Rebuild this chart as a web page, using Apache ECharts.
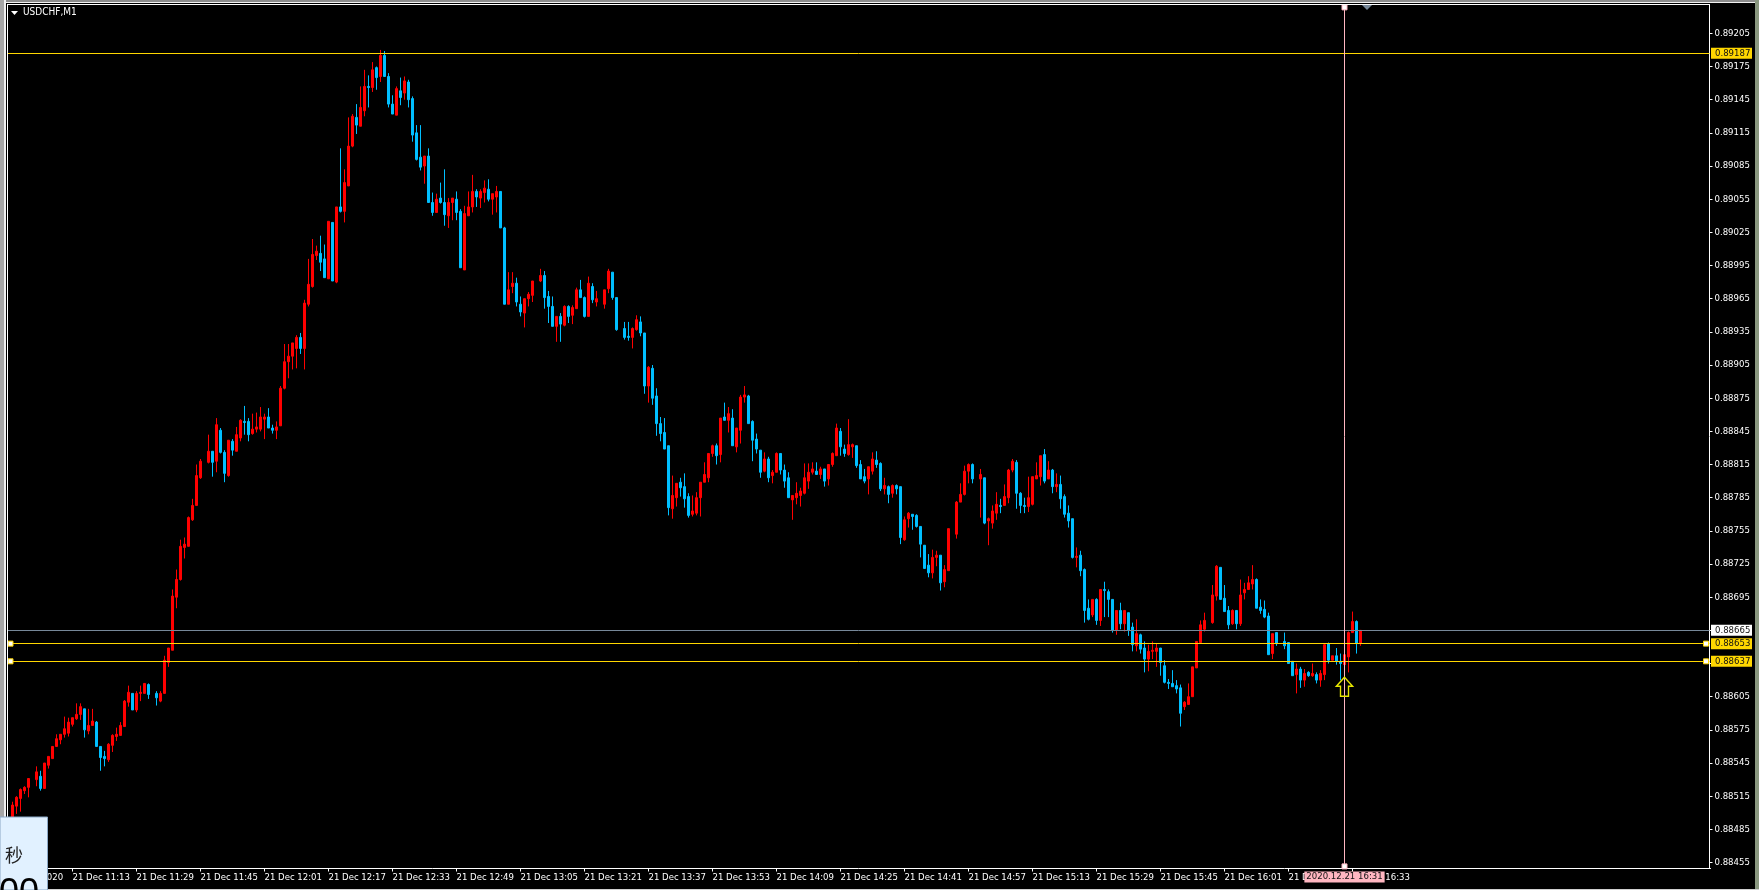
<!DOCTYPE html>
<html><head><meta charset="utf-8">
<style>html,body{margin:0;padding:0;background:#000;overflow:hidden}#c{width:1759px;height:890px}</style>
<script src="https://cdn.jsdelivr.net/npm/echarts@6/dist/echarts.min.js"></script>
</head><body><div id="c"></div>
<script>
// USDCHF M1 prices, in points (1 point = 0.00001). null = minute with no visible bar.
const opens=[88489,88506,88513,88520,88523,null,88530,88533,88522,88543,
88549,88560,88566,88571,88572,88580,88585,88589,88594,88574,
88579,88582,88560,88551,88548,88561,88569,88570,88578,88600,
88608,88593,88608,88608,88616,null,88608,88601,88608,88636,
88647,88695,88711,88740,88741,88765,88778,88803,null,88817,
88827,88818,88846,88826,88805,88836,88827,88839,88854,88854,
88843,88847,88847,88856,88858,88848,88846,88850,88884,88908,
88913,88920,88930,88920,88960,88976,89004,89006,89001,88983,
89034,88980,89048,89044,89067,89103,89129,89121,89135,89157,
89156,89174,89166,89185,89166,89141,89131,89153,89151,89161,
89146,89115,89093,89085,89094,89052,89043,89056,89052,89040,
89052,89055,89044,88991,89040,89048,89062,89056,89061,89064,
89055,89057,89062,89029,88960,88976,88979,88960,88952,88965,
88968,null,88981,88986,88967,88958,88940,88949,88941,88958,
88950,88956,88973,88966,88949,88976,88962,null,88960,88974,
88989,88966,null,88938,88931,88930,88937,88944,88934,88886,
88902,88877,88852,88844,88832,88775,88785,88799,88795,88786,
88770,88771,88785,88799,88803,88825,88832,88824,88858,88855,
88857,88831,88846,88876,88877,88854,88838,88828,88809,88820,
88805,88808,88825,88810,88803,88783,88785,88787,88789,88800,
88808,88809,88806,88811,88802,88815,88823,88845,88829,88824,
88831,88832,88815,88804,88802,88809,88819,88816,88793,88795,
88789,88796,88795,88747,88766,88770,88769,88759,88742,88724,
88717,88731,88733,88709,88719,null,88752,88781,88788,88809,
88815,null,88802,88803,88764,88762,88771,88778,88778,88785,
88810,88817,88789,88778,88777,88779,88802,88804,88824,88802,
88810,88795,88797,88786,88771,88766,88731,88733,88720,88685,
88679,88693,88674,88702,88700,88693,88665,88683,88671,88681,
88668,88651,88661,88649,88639,88646,88646,88649,88633,88618,
88617,88615,88613,88596,88598,88605,88631,88654,88666,null,
88672,88696,88722,88694,88683,88671,88683,88671,88699,88702,
88707,88711,88686,88684,88678,88644,88663,null,88655,88654,
88637,88625,88630,88620,88627,88624,88625,88620,88625,88653,
88638,88642,88637,88634,88641,88663,88673,88653];
const closes=[88507,88514,88521,88523,88531,null,88537,88522,88545,88551,
88560,88567,88571,88576,88582,88586,88589,88596,88575,88579,
88583,88560,88550,88549,88562,88570,88571,88579,88601,88609,
88593,88608,88609,88617,88607,null,88604,88608,88638,88649,
88696,88711,88741,88743,88767,88778,88805,88818,null,88827,
88817,88851,88826,88807,88837,88828,88842,88855,88853,88842,
88847,88849,88858,88858,88848,88846,88849,88884,88908,88913,
88925,88930,88920,88961,88978,89005,89008,88998,88984,89035,
88981,89048,89044,89070,89103,89130,89122,89138,89157,89156,
89172,89165,89185,89166,89141,89132,89155,89147,89162,89145,
89113,89091,89084,89094,89052,89043,89055,89052,89041,89052,
89056,89043,88993,89042,89048,89062,89057,89062,89065,89055,
89060,89062,89029,88960,88973,88979,88962,88953,88965,88969,
88981,null,88986,88966,88958,88940,88949,88942,88958,88949,
88957,88973,88966,88949,88979,88964,88965,null,88973,88990,
88966,88937,null,88930,88930,88938,88946,88934,88886,88903,
88875,88852,88843,88829,88776,88787,88798,88794,88784,88769,
88773,88785,88799,88806,88825,88832,88823,88857,88855,88861,
88832,88848,88876,88878,88852,88837,88829,88808,88820,88803,
88808,88825,88810,88800,88785,88787,88789,88791,88803,88808,
88811,88806,88811,88800,88815,88825,88848,88831,88825,88833,
88833,88814,88802,88800,88813,88820,88815,88793,88796,88788,
88796,88793,88749,88765,88771,88768,88759,88743,88721,88717,
88731,88733,88708,88720,88757,null,88781,88788,88809,88815,
88802,null,88806,88762,88766,88773,88779,88777,88786,88810,
88818,88789,88778,88777,88785,88804,88805,88823,88800,88810,
88795,88797,88784,88770,88764,88731,88732,88719,88683,88675,
88693,88674,88702,88701,88693,88665,88683,88671,88683,88665,
88652,88662,88648,88639,88646,88647,88649,88636,88618,88617,
88614,88612,88590,88600,88605,88632,88655,88670,88674,null,
88697,88723,88693,88682,88670,88683,88671,88697,88702,88708,
88711,88685,88683,88677,88643,88662,88653,null,88651,88635,
88624,88630,88620,88626,88624,88626,88620,88626,88652,88638,
88642,88637,88635,88643,88663,88673,88653,88665];
const highs=[88510,88515,88522,88524,88531,null,88542,88538,88545,88551,
88560,88571,88571,88587,88586,88586,88599,88599,88594,88594,
88594,88583,88560,88556,88563,88571,88577,88582,88602,88615,
88608,88610,88615,88617,88617,null,88610,88610,88642,88649,
88702,88720,88747,88749,88768,88784,88815,88820,null,88842,
88827,88857,88848,88828,88837,88838,88849,88856,88868,88857,
88861,88862,88867,88861,88866,88851,88854,88886,88924,88924,
88925,88932,88934,88964,89001,89019,89013,89022,89014,89035,
89034,89048,89101,89082,89129,89132,89141,89157,89172,89167,
89179,89175,89190,89189,89169,89149,89157,89165,89166,89163,
89148,89122,89122,89094,89101,89061,89060,89070,89082,89056,
89056,89062,89046,89049,89062,89077,89064,89064,89072,89073,
89060,89067,89062,89030,88989,88989,88984,88967,88965,88971,
88981,null,88992,88990,88972,88967,88949,88952,88959,88959,
88959,88975,88982,88967,88985,88979,88972,null,88973,88992,
88989,88966,null,88944,88944,88939,88950,88949,88934,88904,
88905,88884,88858,88857,88832,88805,88798,88803,88807,88789,
88787,88790,88799,88817,88825,88833,88834,88857,88871,88867,
88865,88848,88878,88886,88878,88855,88843,88828,88826,88822,
88810,88826,88825,88815,88808,88787,88799,88794,88816,88816,
88817,88817,88813,88811,88815,88826,88852,88848,88833,88856,
88834,88832,88819,88811,88813,88826,88827,88817,88803,88796,
88797,88797,88795,88768,88772,88770,88770,88759,88742,88734,
88738,88737,88733,88724,88757,null,88782,88798,88814,88816,
88816,null,88811,88803,88767,88778,88790,88784,88797,88811,
88820,88819,88790,88785,88804,88804,88817,88823,88829,88818,
88811,88807,88805,88788,88778,88766,88740,88737,88721,88693,
88693,88694,88702,88709,88702,88693,88683,88690,88683,88681,
88672,88675,88662,88655,88652,88655,88653,88649,88638,88621,
88629,88620,88616,88601,88617,88632,88655,88674,88681,null,
88706,88724,88722,88706,88687,88684,88683,88711,88708,88714,
88724,88712,88693,88692,88681,88662,88663,null,88663,88654,
88637,88635,88632,88630,88628,88635,88627,88629,88653,88654,
88642,88649,88644,88643,88664,88682,88674,88665];
const lows=[88486,88499,88501,88517,88514,null,88524,88520,88522,88540,
88549,88560,88562,88568,88569,88578,88584,88584,88568,88571,
88579,88560,88538,88542,88546,88555,88565,88570,88578,88596,
88593,88591,88601,88608,88603,null,88597,88600,88608,88632,
88647,88685,88710,88730,88741,88764,88778,88802,null,88816,
88804,88808,88825,88799,88804,88823,88827,88836,88842,88836,
88842,88844,88845,88838,88848,88843,88838,88850,88883,88893,
88901,88902,88915,88901,88958,88975,89000,88990,88984,88983,
88981,88979,89043,89034,89067,89102,89114,89121,89130,89138,
89152,89154,89161,89166,89138,89132,89131,89140,89145,89138,
89107,89090,89081,89069,89052,89040,89043,89051,89031,89029,
89036,89036,88993,88991,89040,89043,89048,89047,89052,89053,
89041,89043,89029,88960,88960,88970,88958,88949,88939,88958,
88962,null,88980,88956,88943,88940,88926,88926,88940,88943,
88942,88956,88966,88948,88949,88961,88958,null,88956,88970,
88964,88936,null,88928,88927,88920,88936,88931,88879,88871,
88869,88841,88836,88829,88769,88766,88777,88786,88776,88767,
88768,88769,88768,88799,88799,88822,88815,88817,88855,88844,
88832,88826,88834,88871,88852,88818,88825,88803,88808,88799,
88798,88808,88806,88794,88785,88765,88779,88777,88788,88793,
88806,88806,88802,88795,88796,88813,88823,88823,88822,88823,
88821,88812,88802,88798,88788,88806,88812,88791,88788,88780,
88785,88788,88743,88746,88758,88756,88758,88731,88721,88713,
88712,88723,88701,88704,88719,null,88748,88781,88787,88798,
88798,null,88767,88761,88742,88757,88765,88771,88778,88780,
88808,88775,88771,88771,88772,88778,88802,88796,88798,88802,
88789,88790,88775,88767,88758,88730,88722,88714,88672,88674,
88677,88670,88669,88677,88677,88663,88661,88666,88664,88660,
88646,88646,88644,88627,88628,88639,88632,88624,88617,88612,
88614,88608,88578,88593,88598,88605,88631,88654,88664,null,
88671,88692,88693,88682,88666,88670,88666,88669,88693,88702,
88702,88685,88680,88676,88643,88639,88651,null,88648,88635,
88624,88608,88613,88614,88623,88623,88617,88614,88620,88635,
88638,88634,88620,88620,88627,88663,88644,88651];

const yTicks=[0.89205,0.89175,0.89145,0.89115,0.89085,0.89055,0.89025,0.88995,0.88965,0.88935,0.88905,0.88875,0.88845,0.88815,0.88785,0.88755,0.88725,0.88695,0.88665,0.88635,0.88605,0.88575,0.88545,0.88515,0.88485,0.88455];
const xTickLabels=['21 Dec 2020','21 Dec 11:13','21 Dec 11:29','21 Dec 11:45','21 Dec 12:01','21 Dec 12:17','21 Dec 12:33','21 Dec 12:49','21 Dec 13:05','21 Dec 13:21','21 Dec 13:37','21 Dec 13:53','21 Dec 14:09','21 Dec 14:25','21 Dec 14:41','21 Dec 14:57','21 Dec 15:13','21 Dec 15:29','21 Dec 15:45','21 Dec 16:01','21 Dec 16:17','21 Dec 16:33'];
const goldLevels=[0.89187,0.88653,0.88637];
const bidLevel=0.88665;
const cursorTimeLabel='2020.12.21 16:31';

const SLOTS=426, START=10*60+57;
const categories=[];
for(let i=0;i<SLOTS;i++){const m=START+i;categories.push(i===0?'21 Dec 2020':'21 Dec '+String(Math.floor(m/60)).padStart(2,'0')+':'+String(m%60).padStart(2,'0'));}
const tickSet=new Set(xTickLabels);
const showTick=(i,v)=>tickSet.has(categories[i]);
const P=v=>v*1e-5;
const candles=[];
for(let s=0;s<SLOTS;s++){const k=s-1;
  candles.push(k>=0&&k<opens.length&&opens[k]!=null?[P(opens[k]),P(closes[k]),P(lows[k]),P(highs[k])]:'-');}
const cursorSlot=categories.indexOf('21 Dec 16:31');

const UI='"DejaVu Sans Condensed","DejaVu Sans",sans-serif';
const GOLD='#ffd700',PINK='#ffb6c1',SLATE='#778899';
const tag=(bg,v)=>({show:true,position:'end',distance:0.5,formatter:v.toFixed(5),color:'#111',backgroundColor:bg,fontFamily:UI,fontSize:9.5,lineHeight:11,width:33,align:'left',verticalAlign:'middle',padding:[0,4,0,4]});
const handle=(slot,val,off)=>({coord:[slot,val],symbol:'rect',symbolSize:5,symbolOffset:[off,0],itemStyle:{color:'#fff',borderColor:GOLD,borderWidth:1}});
const pinkHandle=(val)=>({coord:[cursorSlot,val],symbol:'rect',symbolSize:5,itemStyle:{color:'#fff',borderColor:PINK,borderWidth:1}});
const hidden={color:'rgba(0,0,0,0)',width:0,type:'solid'};
// pixel-crisp level lines, placed through the axis scale
const levelColors=[GOLD,GOLD,GOLD,SLATE];
const levelData=[...goldLevels,bidLevel].map(v=>[0,v]);
const crisp=v=>Math.floor(v)+0.5;

const chart=echarts.init(document.getElementById('c'),null,{renderer:'canvas'});
chart.setOption({
  animation:false,backgroundColor:'#000',
  grid:{left:6.5,right:1759-1710.5,top:4.5,bottom:21.5,containLabel:false,show:false},
  xAxis:{type:'category',data:categories,boundaryGap:true,
    axisLine:{show:true,lineStyle:{color:'#fff',width:1}},
    axisTick:{show:true,alignWithLabel:true,interval:showTick,length:3,lineStyle:{color:'#fff'}},
    axisLabel:{show:true,interval:showTick,align:'left',color:'#fff',fontFamily:UI,fontSize:9.5,margin:4,hideOverlap:false},
    splitLine:{show:false}},
  yAxis:{type:'value',position:'right',offset:-1,scale:true,min:0.884496,max:0.892311,
    axisLine:{show:true,lineStyle:{color:'#fff',width:1}},
    axisTick:{show:true,length:3,lineStyle:{color:'#fff'},customValues:yTicks},
    axisLabel:{show:true,color:'#fff',fontFamily:UI,fontSize:9.5,margin:5,customValues:yTicks,formatter:v=>v.toFixed(5)},
    splitLine:{show:false}},
  series:[{type:'candlestick',data:candles,barWidth:2,clip:false,
    itemStyle:{color:'#ff0000',borderColor:'#ff0000',color0:'#00bfff',borderColor0:'#00bfff',borderWidth:1},
    markLine:{silent:true,symbol:'none',animation:false,z:5,precision:6,
      data:[
        ...goldLevels.map(v=>({yAxis:v,lineStyle:hidden,label:tag(GOLD,v)})),
        {yAxis:bidLevel,lineStyle:hidden,label:tag('#ffffff',bidLevel)},
        {xAxis:cursorSlot,lineStyle:hidden,
          label:{show:true,position:'start',distance:3,formatter:cursorTimeLabel,color:'#111',backgroundColor:PINK,fontFamily:UI,fontSize:9.5,lineHeight:11,padding:[0,2]}}
      ]},
    markPoint:{silent:true,animation:false,z:6,label:{show:false},
      data:[
        handle(0,goldLevels[1],2),handle(0,goldLevels[2],2),
        handle(424,goldLevels[1],1.5),handle(424,goldLevels[2],1.5),
        pinkHandle(0.892285),pinkHandle(0.884515),
        {coord:[cursorSlot,0.88614],symbol:'path://M8 0 L16 9 L12 9 L12 19 L4 19 L4 9 L0 9 Z',symbolSize:[16,19],itemStyle:{color:'rgba(0,0,0,0)',borderColor:'#e6e600',borderWidth:1.5}}
      ]}
  },{
    type:'custom',silent:true,z:3,clip:false,data:levelData,encode:{x:0,y:1},
    renderItem:(p,api)=>{const y=crisp(api.coord([0,api.value(1)])[1]);const c=p.coordSys;
      return {type:'line',shape:{x1:c.x+1,y1:y,x2:c.x+c.width-1,y2:y},style:{stroke:levelColors[p.dataIndex],lineWidth:1,fill:null}};}
  },{
    type:'custom',silent:true,z:3,clip:false,data:[[cursorSlot,0.888]],encode:{x:0,y:1},
    renderItem:(p,api)=>{const x=crisp(api.coord([api.value(0),0.888])[0]);const c=p.coordSys;
      return {type:'line',shape:{x1:x,y1:c.y,x2:x,y2:c.y+c.height},style:{stroke:PINK,lineWidth:1,fill:null}};}
  }],
  graphic:[
    {type:'rect',z:50,shape:{x:0,y:0,width:1759,height:2},style:{fill:'#8c8c8c'}},
    {type:'rect',z:50,shape:{x:0,y:2,width:1759,height:1},style:{fill:'#f0f0f0'}},
    {type:'rect',z:50,shape:{x:0,y:0,width:4,height:890},style:{fill:'#a6a6a6'}},
    {type:'rect',z:50,shape:{x:4,y:0,width:2,height:890},style:{fill:'#f0f0f0'}},
    {type:'rect',z:50,shape:{x:1755,y:0,width:4,height:890},style:{fill:'#8a9880'}},
    {type:'rect',z:50,shape:{x:0,y:889,width:1759,height:1},style:{fill:'#d0d0d0'}},
    {type:'rect',z:50,shape:{x:7,y:4,width:1703,height:1},style:{fill:'#fff'}},
    {type:'rect',z:50,shape:{x:7,y:4,width:1,height:865},style:{fill:'#fff'}},
    {type:'polygon',z:50,shape:{points:[[1362,5],[1372,5],[1367,10]]},style:{fill:SLATE}},
    {type:'polygon',z:50,shape:{points:[[11,11],[18,11],[14.5,15]]},style:{fill:'#fff'}},
    {type:'text',z:50,style:{x:23,y:12.5,text:'USDCHF,M1',fill:'#fff',font:'10px '+UI,textVerticalAlign:'middle'}},
    {type:'rect',z:60,shape:{x:0,y:817,width:47.5,height:73},style:{fill:'#e1f1ff',stroke:'#8ba8c6',lineWidth:1}},
    {type:'text',z:61,style:{x:5,y:855,text:'秒',fill:'#222',font:'18px "Noto Sans CJK SC"',textVerticalAlign:'middle'}},
    {type:'text',z:61,style:{x:-1,y:894,text:'00',fill:'#000',font:'36px "Liberation Sans"',textVerticalAlign:'middle'}}
  ]
});
</script></body></html>
